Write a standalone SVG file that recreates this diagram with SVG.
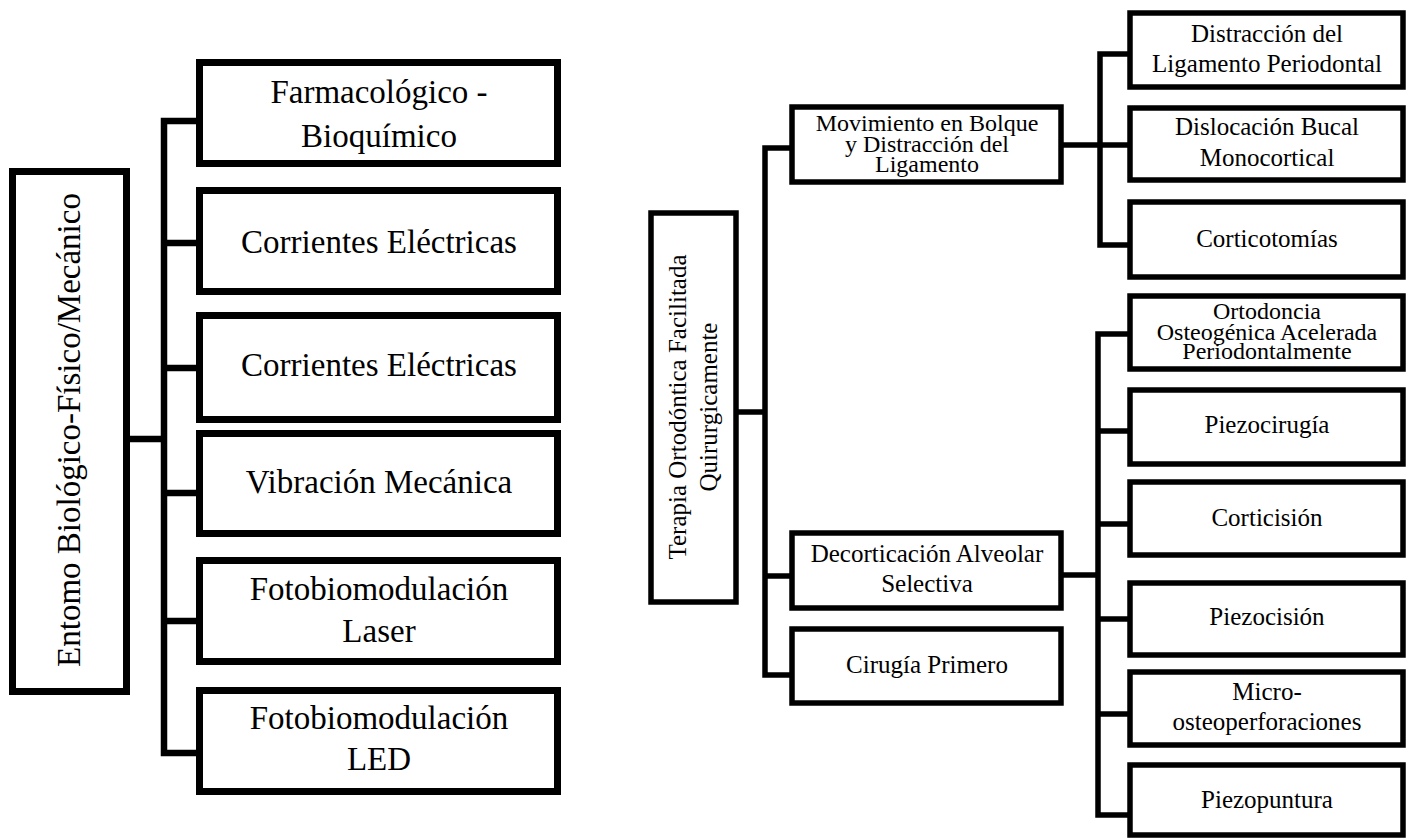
<svg xmlns="http://www.w3.org/2000/svg" width="1413" height="839" viewBox="0 0 1413 839">
<style>
.box{fill:#fff;stroke:#000;stroke-width:7}
.boxr{fill:#fff;stroke:#000;stroke-width:5.5}
.ln{stroke:#000;stroke-width:6.5;fill:none;stroke-linecap:square}
.lnr{stroke:#000;stroke-width:5.5;fill:none;stroke-linecap:square}
.t{fill:#000;text-anchor:middle}
.big{font-size:33px}
.sm{font-size:25px}
.tight{font-size:24px}
</style>
<rect width="1413" height="839" fill="#fff"/>
<g id="connectors">
<path class="ln" d="M130 439H164M164 121V753M164 121H199M164 243H199M164 368H199M164 493H199M164 621H199M164 753H199"/>
<path class="lnr" d="M739 412H765M765 148V675M765 148H792M765 576H792M765 675H792"/>
<path class="lnr" d="M1064 145H1100M1100 54V245M1100 54H1130M1100 145H1130M1100 245H1130"/>
<path class="lnr" d="M1064 575H1098M1098 334V815M1098 334H1130M1098 431H1130M1098 524H1130M1098 619H1130M1098 714H1130M1098 815H1130"/>
</g>
<g font-family="Liberation Serif, Times New Roman, DejaVu Serif, serif">
<g id="root-left">
<rect class="box" x="12.5" y="171.5" width="114" height="520"/>
<text class="t big" transform="translate(80,430) rotate(-90)">Entomo Biológico-Físico/Mecánico</text>
</g>
<g id="farmaco">
<rect class="box" x="199.5" y="62.5" width="358" height="101"/>
<text class="t big" x="379" y="103">Farmacológico -</text>
<text class="t big" x="379" y="147">Bioquímico</text>
</g>
<g id="corrientes1">
<rect class="box" x="199.5" y="190.5" width="358" height="101"/>
<text class="t big" x="379" y="253">Corrientes Eléctricas</text>
</g>
<g id="corrientes2">
<rect class="box" x="199.5" y="315.5" width="358" height="104"/>
<text class="t big" x="379" y="376">Corrientes Eléctricas</text>
</g>
<g id="vibracion">
<rect class="box" x="199.5" y="433.5" width="358" height="100"/>
<text class="t big" x="379" y="493">Vibración Mecánica</text>
</g>
<g id="laser">
<rect class="box" x="199.5" y="560.5" width="358" height="101"/>
<text class="t big" x="379" y="600">Fotobiomodulación</text>
<text class="t big" x="379" y="642">Laser</text>
</g>
<g id="led">
<rect class="box" x="199.5" y="690.5" width="358" height="101"/>
<text class="t big" x="379" y="729">Fotobiomodulación</text>
<text class="t big" x="379" y="770">LED</text>
</g>
<g id="root-right">
<rect class="boxr" x="651" y="213" width="85" height="389"/>
<text class="t sm" transform="translate(686,407) rotate(-90)">Terapia Ortodóntica Facilitada</text>
<text class="t sm" transform="translate(717,407) rotate(-90)">Quirurgicamente</text>
</g>
<g id="movimiento">
<rect class="boxr" x="792" y="107" width="269" height="75"/>
<text class="t tight" x="927" y="131">Movimiento en Bolque</text>
<text class="t tight" x="927" y="152">y Distracción del</text>
<text class="t tight" x="927" y="172">Ligamento</text>
</g>
<g id="decorticacion">
<rect class="boxr" x="792" y="533" width="269" height="75"/>
<text class="t sm" x="927" y="562">Decorticación Alveolar</text>
<text class="t sm" x="927" y="592">Selectiva</text>
</g>
<g id="cirugia">
<rect class="boxr" x="792" y="629" width="269" height="74"/>
<text class="t sm" x="927" y="673">Cirugía Primero</text>
</g>
<g id="distraccion">
<rect class="boxr" x="1130" y="13" width="273" height="74"/>
<text class="t sm" x="1267" y="42">Distracción del</text>
<text class="t sm" x="1267" y="72">Ligamento Periodontal</text>
</g>
<g id="dislocacion">
<rect class="boxr" x="1130" y="108" width="273" height="72"/>
<text class="t sm" x="1267" y="135">Dislocación Bucal</text>
<text class="t sm" x="1267" y="166">Monocortical</text>
</g>
<g id="corticotomias">
<rect class="boxr" x="1130" y="202" width="273" height="75"/>
<text class="t sm" x="1267" y="247">Corticotomías</text>
</g>
<g id="ortodoncia">
<rect class="boxr" x="1130" y="296" width="273" height="73"/>
<text class="t tight" x="1267" y="319">Ortodoncia</text>
<text class="t tight" x="1267" y="340">Osteogénica Acelerada</text>
<text class="t tight" x="1267" y="359">Periodontalmente</text>
</g>
<g id="piezocirugia">
<rect class="boxr" x="1130" y="390" width="273" height="74"/>
<text class="t sm" x="1267" y="433">Piezocirugía</text>
</g>
<g id="corticision">
<rect class="boxr" x="1130" y="482" width="273" height="73"/>
<text class="t sm" x="1267" y="526">Corticisión</text>
</g>
<g id="piezocision">
<rect class="boxr" x="1130" y="583" width="273" height="72"/>
<text class="t sm" x="1267" y="625">Piezocisión</text>
</g>
<g id="micro">
<rect class="boxr" x="1130" y="672" width="273" height="73"/>
<text class="t sm" x="1267" y="700">Micro-</text>
<text class="t sm" x="1267" y="730">osteoperforaciones</text>
</g>
<g id="piezopuntura">
<rect class="boxr" x="1130" y="765" width="273" height="70"/>
<text class="t sm" x="1267" y="808">Piezopuntura</text>
</g>
</g>
</svg>
